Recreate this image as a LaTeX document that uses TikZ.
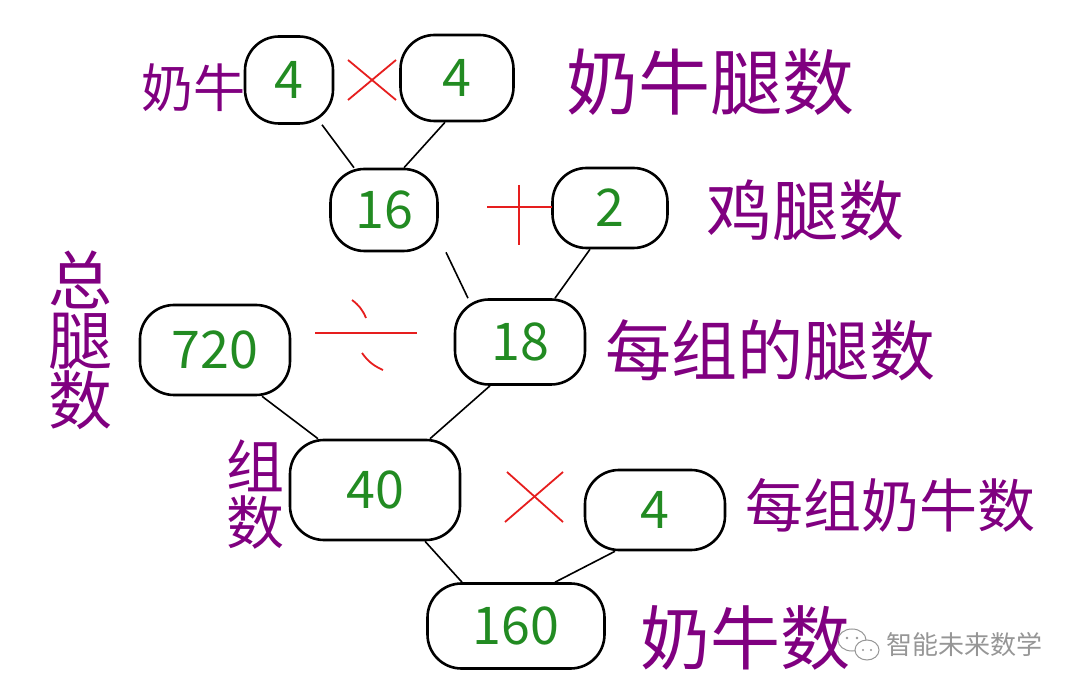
\documentclass[tikz,border=0pt]{standalone}
\usepackage{fontspec}
\newfontfamily\cjk{Noto Sans CJK SC}
\definecolor{hpurple}{RGB}{128,0,128}
\definecolor{hgreen}{RGB}{34,139,34}
\definecolor{hred}{RGB}{230,30,30}
\definecolor{wgray}{RGB}{150,150,150}
\tikzset{
  blob/.style={draw=black, line width=2.6pt, rounded corners=34pt, minimum width=#1, inner sep=0pt},
  num/.style={text=hgreen, font=\fontsize{52}{52}\selectfont\cjk},
  lab/.style={text=hpurple, font=\fontsize{#1}{#1}\selectfont\cjk, inner sep=0pt},
  conn/.style={draw=black, line width=1.6pt},
  op/.style={draw=hred, line width=1.8pt},
}
\begin{document}
\begin{tikzpicture}[x=1pt,y=-1pt]
\useasboundingbox (0,0) rectangle (1080,692);
% blobs
\node[blob=88pt, minimum height=87pt, num] (A) at (289,80) {4};
\node[blob=113pt, minimum height=86pt, num] (B) at (457,78) {4};
\node[blob=107pt, minimum height=82pt, num] (C) at (384,210) {16};
\node[blob=115pt, minimum height=80pt, num] (D) at (610,208) {2};
\node[blob=150pt, minimum height=90pt, num] (E) at (215,350) {720};
\node[blob=130pt, minimum height=85pt, num] (F) at (520,342) {18};
\node[blob=170pt, minimum height=100pt, num] (G) at (375,490) {40};
\node[blob=140pt, minimum height=80pt, num] (H) at (655,510) {4};
\node[blob=177pt, minimum height=85pt, num] (I) at (516,626) {160};
% connectors
\draw[conn] ([xshift=33pt]A.south) -- ([xshift=-30pt]C.north);
\draw[conn] ([xshift=-12pt]B.south) -- ([xshift=20pt]C.north);
\draw[conn] ([xshift=62pt]C.south) -- ([xshift=-52pt]F.north);
\draw[conn] ([xshift=-20pt]D.south) -- ([xshift=35pt]F.north);
\draw[conn] ([xshift=47pt]E.south) -- ([xshift=-57pt]G.north);
\draw[conn] ([xshift=-30pt]F.south) -- ([xshift=55pt]G.north);
\draw[conn] ([xshift=50pt]G.south) -- ([xshift=-54pt]I.north);
\draw[conn] ([xshift=-40pt]H.south) -- ([xshift=39pt]I.north);
% operators
\coordinate (x1) at (372,80);
\draw[op] ([shift={(-24,-20)}]x1) -- ([shift={(24,20)}]x1);
\draw[op] ([shift={(-24,20)}]x1) -- ([shift={(24,-20)}]x1);
\coordinate (p1) at (519,207);
\draw[op] ([shift={(-32,0)}]p1) -- ([shift={(33,0)}]p1);
\draw[op] ([shift={(0,-22)}]p1) -- ([shift={(0,38)}]p1);
\coordinate (d1) at (366,333);
\draw[op] ([shift={(-51,0)}]d1) -- ([shift={(51,0)}]d1);
\draw[op] ([shift={(-14,-33)}]d1) to[bend left=15] ([shift={(0,-15)}]d1);
\draw[op] ([shift={(-4,20)}]d1) to[bend right=15] ([shift={(17,37)}]d1);
\coordinate (x2) at (535,497);
\draw[op] ([shift={(-28,-25)}]x2) -- ([shift={(28,25)}]x2);
\draw[op] ([shift={(-30,25)}]x2) -- ([shift={(28,-25)}]x2);
% labels
\node[lab=52] (lA) at (193,88) {奶牛};
\node[lab=72] (lB) at (710,82) {奶牛腿数};
\node[lab=66] (lD) at (805,210) {鸡腿数};
\node[lab=64, align=center] (lE) at (80,340) {总\\[-4pt]腿\\[-4pt]数};
\node[lab=66] (lF) at (770,350) {每组的腿数};
\node[lab=58, align=center] (lG) at (255,495) {组\\[-2pt]数};
\node[lab=58] (lH) at (890,505) {每组奶牛数};
\node[lab=70] (lI) at (745,638) {奶牛数};
% watermark
\draw[wgray, line width=1pt] (852,640) ellipse (14pt and 11pt);
\draw[wgray, line width=1pt, fill=white] (867,650) ellipse (12pt and 10pt);
\fill[wgray] (847,638) circle (1.4pt) (857,638) circle (1.4pt) (863,650) circle (1.2pt) (871,650) circle (1.2pt);
\node[text=wgray, font=\fontsize{26}{26}\selectfont\cjk, anchor=west, inner sep=0pt] (wm) at (886,645) {智能未来数学};
\end{tikzpicture}
\end{document}
